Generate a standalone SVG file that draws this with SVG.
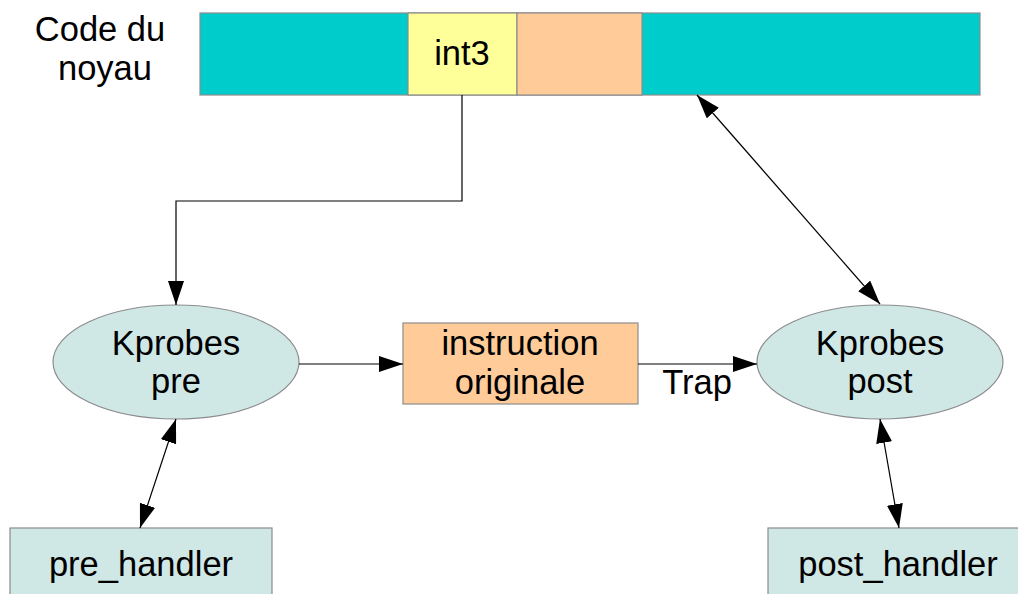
<svg xmlns="http://www.w3.org/2000/svg" width="1018" height="594" viewBox="0 0 1018 594">
<defs>
<style>
text{font-family:"Liberation Sans",Arial,sans-serif;font-size:34.5px;fill:#000;text-anchor:middle}
.edge{fill:none;stroke:#000;stroke-width:1.2}
.box{stroke:#8c8c8c;stroke-width:1.2}
</style>
<marker id="ah" viewBox="0 0 24 16" refX="24" refY="8" markerWidth="24" markerHeight="16" markerUnits="userSpaceOnUse" orient="auto-start-reverse">
<path d="M0,0 L24,8 L0,16 Z" fill="#000"/>
</marker>
</defs>
<rect width="1018" height="594" fill="#fff"/>
<g id="label-code">
<text x="100" y="41">Code du</text>
<text x="105" y="80">noyau</text>
</g>
<g id="kernel-bar">
<rect class="box" x="200" y="13" width="780" height="82" fill="#00cccc"/>
<rect class="box" x="408" y="13" width="109" height="82" fill="#ffff99"/>
<rect class="box" x="517" y="13" width="125" height="82" fill="#ffcc99"/>
<text x="462" y="65">int3</text>
</g>
<g id="kprobes-pre">
<ellipse class="box" cx="176" cy="362" rx="123" ry="57" fill="#cfe7e5"/>
<text x="176" y="355">Kprobes</text>
<text x="176" y="393">pre</text>
</g>
<g id="instruction">
<rect class="box" x="403" y="323" width="235" height="81" fill="#ffcc99"/>
<text x="520" y="355">instruction</text>
<text x="520" y="394">originale</text>
</g>
<g id="kprobes-post">
<ellipse class="box" cx="880" cy="362" rx="123" ry="57" fill="#cfe7e5"/>
<text x="880" y="355">Kprobes</text>
<text x="880" y="393">post</text>
</g>
<g id="pre-handler">
<rect class="box" x="10" y="528" width="262" height="80" fill="#cfe7e5"/>
<text x="141" y="576">pre_handler</text>
</g>
<g id="post-handler">
<rect class="box" x="768" y="528" width="262" height="80" fill="#cfe7e5"/>
<text x="898" y="576">post_handler</text>
</g>
<g id="connectors">
<path class="edge" d="M462,95 V201 H176 V305" marker-end="url(#ah)"/>
<path class="edge" d="M299,364 H403" marker-end="url(#ah)"/>
<path class="edge" d="M638,364 H757" marker-end="url(#ah)"/>
<text x="697" y="394">Trap</text>
<path class="edge" d="M697,95 L880,304" marker-start="url(#ah)" marker-end="url(#ah)"/>
<path class="edge" d="M176,419 L140,528" marker-start="url(#ah)" marker-end="url(#ah)"/>
<path class="edge" d="M880,419 L899,528" marker-start="url(#ah)" marker-end="url(#ah)"/>
</g>
</svg>
